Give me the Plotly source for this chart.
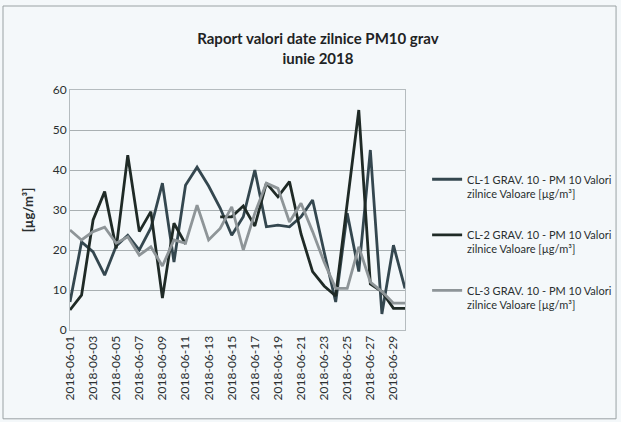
import plotly.graph_objects as go

# Days of June 2018 (category axis)
days = ['2018-06-%02d' % d for d in range(1, 31)]
tick_days = days[::2]

# Daily PM10 values [µg/m³]
cl1_values = [7, 22, 19.5, 13.7, 21, 23.7, 20, 25.5, 36.7, 17,
              36.2, 40.7, 36, 30.5, 23.7, 28.3, 40, 25.8, 26.2, 25.8,
              28.3, 32.5, 19.5, 7, 29.2, 14.6, 45, 4, 21.2, 10.4]
cl2_values = [5, 8.7, 27.5, 34.6, 20.4, 43.7, 24.6, 29.6, 8, 26.7,
              21.5, None, None, 28.3, 28.3, 31, 26, 36.7, 33.3, 37.1,
              24, 14.6, 11, 8.5, 32, 55, 11.5, 9.6, 5.4, 5.4]
cl3_values = [25, 22.5, 24.6, 25.7, 21.7, 23.3, 18.7, 20.8, 16, 22.5,
              21.7, 31.2, 22.5, 25.4, 30.8, 20, 29.2, 36.7, 35.4, 27,
              31.7, 24.6, 17, 10.4, 10.4, 20.8, 12, 9.6, 6.7, 6.7]

series_names = [
    'CL-1 GRAV. 10 - PM 10 Valori<br>zilnice Valoare [µg/m³]',
    'CL-2 GRAV. 10 - PM 10 Valori<br>zilnice Valoare [µg/m³]',
    'CL-3 GRAV. 10 - PM 10 Valori<br>zilnice Valoare [µg/m³]',
]
series_values = [cl1_values, cl2_values, cl3_values]
series_colors = ['#34474f', '#1f2a26', '#8e9598']

fig = go.Figure()
for i, (name, vals, col) in enumerate(zip(series_names, series_values, series_colors)):
    fig.add_trace(go.Scatter(
        x=days, y=vals, name=name, mode='lines',
        line=dict(color=col, width=2.8),
        legendgroup='g%d' % i,
    ))

fig.update_layout(
    width=621, height=422,
    margin=dict(l=70, r=216, t=90, b=92, autoexpand=False),
    paper_bgcolor='#f4f8fa',
    plot_bgcolor='#f4f8fa',
    font=dict(family='Lato, Open Sans, sans-serif', size=12, color='#2a2f30'),
    title=dict(
        text='<b>Raport valori date zilnice PM10 grav<br>iunie 2018</b>',
        x=0.512, xanchor='center', y=0.895, yanchor='top',
        font=dict(size=15, color='#1e2324'),
    ),
    legend=dict(
        x=1.066, xanchor='left', y=0.685, yanchor='top',
        font=dict(size=11, color='#2a2f30'),
        tracegroupgap=24,
        valign='top',
        bgcolor='rgba(0,0,0,0)',
    ),
    showlegend=True,
)

fig.update_xaxes(
    type='category',
    tickmode='array', tickvals=tick_days, ticktext=tick_days,
    tickangle=-90,
    showgrid=False,
    showline=True, linecolor='#b5bcbf', linewidth=1, mirror=True,
    ticks='', tickfont=dict(size=12),
)
fig.update_yaxes(
    range=[0, 60], dtick=10,
    showgrid=True, gridcolor='#a9b0b2', gridwidth=1,
    showline=True, linecolor='#b5bcbf', linewidth=1, mirror=True,
    zeroline=False,
    title=dict(text='<b>[µg/m³]</b>', font=dict(size=13), standoff=16),
    tickfont=dict(size=12),
)

# outer chart border
fig.add_shape(type='rect', xref='paper', yref='paper',
              x0=-0.2, x1=1.63, y0=-0.37, y1=1.35,
              line=dict(color='#9aa2a4', width=1))

fig.write_html('out.html', config={'displayModeBar': False},
               post_script="document.body.style.margin='0';")
